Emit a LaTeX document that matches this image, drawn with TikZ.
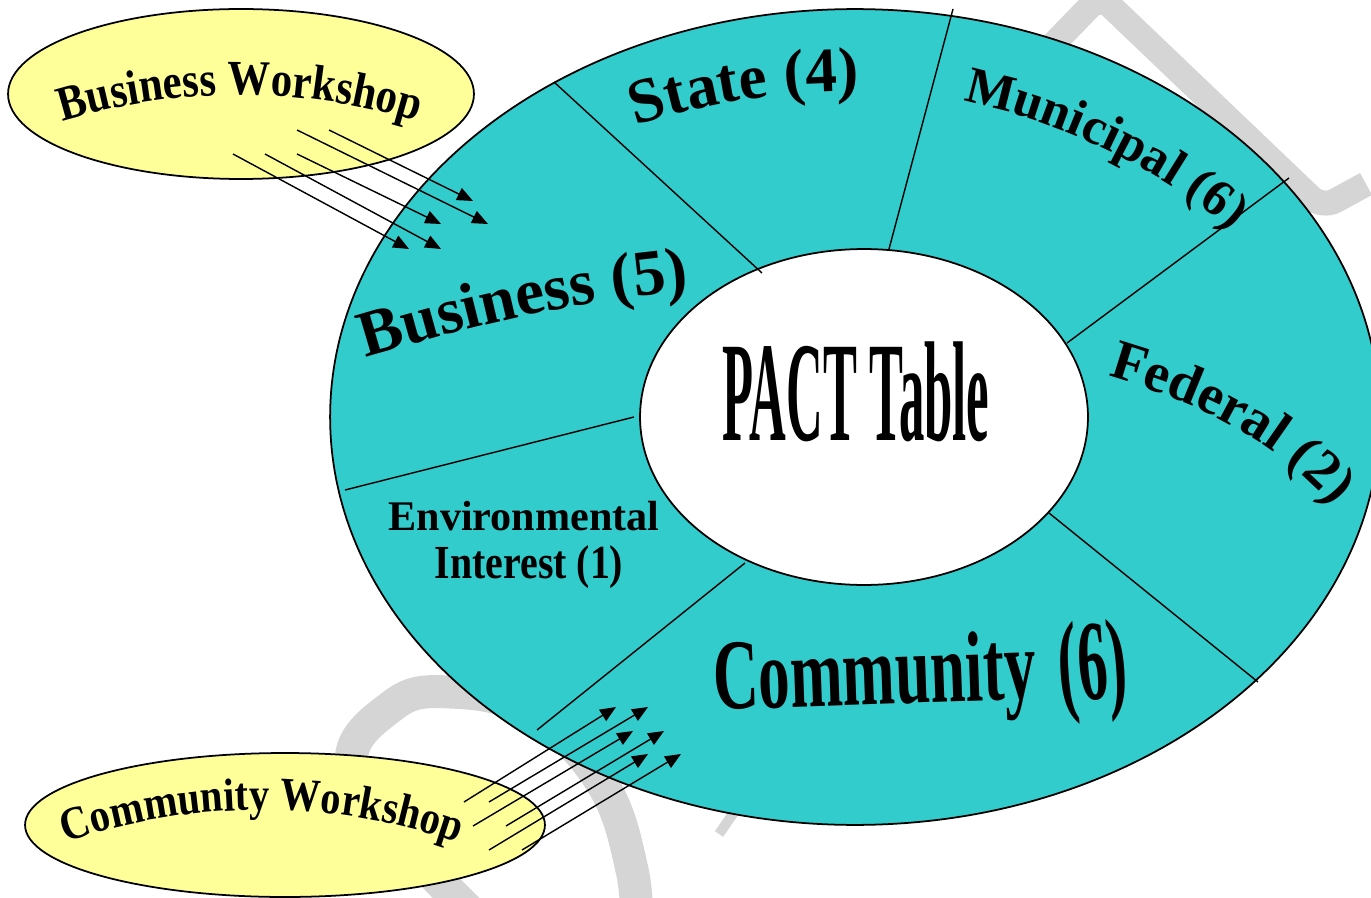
\documentclass[tikz,border=0pt]{standalone}
\usepackage{fontspec}
\setmainfont{Liberation Serif}
\newfontfamily\wsfamily[FakeStretch=0.87]{Liberation Serif}
\usetikzlibrary{shapes.geometric,arrows.meta,decorations.text}
\definecolor{pactteal}{RGB}{51,204,204}
\definecolor{wsyellow}{RGB}{255,255,153}
\definecolor{wmgray}{RGB}{213,213,213}
\newcommand\fsz[1]{\fontsize{#1}{#1}\selectfont\bfseries}
\newcommand\wsz[1]{\wsfamily\fontsize{#1}{#1}\selectfont\bfseries}
\begin{document}
\begin{tikzpicture}[x=0.02cm,y=-0.02cm,
  ring/.style={ellipse, draw=black, line width=1pt, inner sep=0pt},
  divider/.style={draw=black, line width=0.8pt},
  arr/.style={draw=black, line width=0.8pt, -{Triangle[length=9pt,width=7.5pt]}},
  wm/.style={draw=wmgray, line cap=butt},
  lbl/.style={inner sep=0pt},
  curved/.style={decorate, decoration={text along path, text align=#1}},
]
\useasboundingbox (0,0) rectangle (1371,898);
\clip (0,0) rectangle (1371,898);
% watermark
\draw[wm, line width=0.5cm, rounded corners=0.3cm] (1040,58) -- (1100,-4) -- (1322,208) -- (1366,184);
\draw[wm, line width=0.66cm] plot[smooth, tension=0.7] coordinates {(500,940) (420,860) (352,768) (392,706) (450,692) (530,712) (600,780) (632,870) (636,940)};
\draw[wm, line width=0.2cm] (719,834) -- (770,760);
% main rings
\node[ring, fill=pactteal, minimum width=21cm, minimum height=16.32cm] (pact) at (855,417) {};
\node[ring, fill=white, minimum width=8.96cm, minimum height=6.72cm] (core) at (864,417) {};
% dividers
\draw[divider] (554,82) -- (762,273);
\draw[divider] (953,9) -- (889,249);
\draw[divider] (1289,178) -- (1067,343);
\draw[divider] (1049,513) -- (1258,682);
\draw[divider] (745,563) -- (537,730);
\draw[divider] (634,417) -- (345,490);
% workshops
\node[ring, fill=wsyellow, minimum width=9.32cm, minimum height=3.4cm] (bws) at (241,94) {};
\node[ring, fill=wsyellow, minimum width=10.4cm, minimum height=2.88cm] (cws) at (285,825) {};
% labels
\node[lbl, anchor=base] (pacttext) at (856,440) {\fsz{81}\scalebox{0.357}[1]{PACT Table}};
\path[curved=left, decoration={text={|\fsz{37}|Business (5)}}] (366,358) .. controls (460,330) and (580,295) .. (740,288);
\path[curved=left, decoration={text={|\fsz{36}|State (4)}}] (636,126) .. controls (700,104) and (800,86) .. (880,93);
\path[curved=left, decoration={text={|\fsz{29.5}|Municipal (6)}}] (963,101) .. controls (1050,118) and (1190,175) .. (1270,270);
\path[curved=left, decoration={text={|\fsz{32}|Federal (2)}}] (1108,376) .. controls (1190,400) and (1290,440) .. (1360,540);
\node[lbl, anchor=base] (env1) at (524,530) {\fsz{24}Environmental};
\node[lbl, anchor=base] (env2) at (529,578) {\fsz{27}\scalebox{0.84}[1]{Interest (1)}};
\node[lbl, anchor=base west, rotate=2] (comm) at (714,710) {\fsz{57}\scalebox{0.63}[1]{Community}};
\node[lbl, anchor=base west, rotate=4] (commn) at (1060,702) {\fsz{65}\scalebox{0.52}[1]{(6)}};
\path[curved=center, decoration={text={|\wsz{28}|Business Workshop}}] (13.4,139) .. controls (158.8,80.3) and (321.2,80.2) .. (466.6,139);
\path[curved=center, decoration={text={|\wsz{26.5}|Community Workshop}}] (8.4,866.2) .. controls (169.1,791.2) and (354.9,791.2) .. (515.6,866.2);
% arrows
\foreach \i/\sx/\sy/\ex/\ey in {1/329/130/473/201, 2/297/130/488/224, 3/297/154/441/224, 4/265/154/441/249, 5/233/154/409/249}{
  \coordinate (bs\i) at (\sx,\sy);
  \coordinate (be\i) at (\ex,\ey);
  \draw[arr] (bs\i) -- (be\i);
}
\foreach \i/\sx/\sy/\ex/\ey in {1/464/802/616/707, 2/489/802/648/707, 3/473/826/633/731, 4/506/826/664/731, 5/489/850/648/754, 6/522/850/681/754}{
  \coordinate (cs\i) at (\sx,\sy);
  \coordinate (ce\i) at (\ex,\ey);
  \draw[arr] (cs\i) -- (ce\i);
}
\end{tikzpicture}
\end{document}
